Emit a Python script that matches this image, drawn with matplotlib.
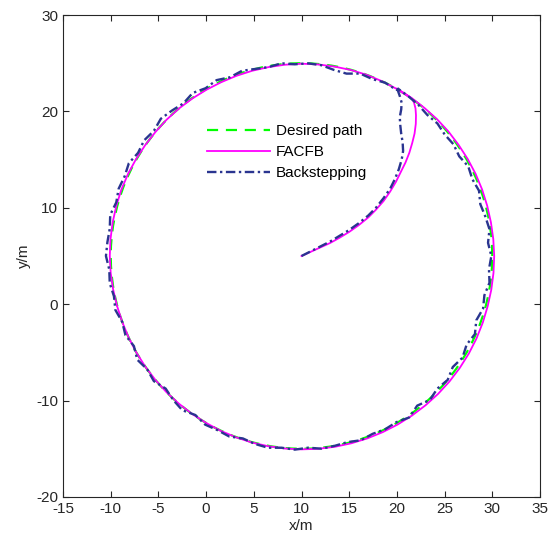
import numpy as np
import matplotlib
matplotlib.use("Agg")
import matplotlib.pyplot as plt

plt.rcParams['font.family'] = ['Liberation Sans', 'DejaVu Sans']
plt.rcParams['axes.unicode_minus'] = False

# Reference circle: centre and radius of the desired path
center_x, center_y = 10.0, 5.0
desired_angle = np.arange(0, 361, 3)
desired_radius = [20.0] * len(desired_angle)

# FACFB: approach from the start point, then tracking around the circle
facfb_approach_x = [10.0, 11.0, 12.0, 13.0, 14.0, 15.0, 16.0, 17.0, 17.8, 18.6, 19.3, 19.9,
                    20.4, 20.9, 21.3, 21.6, 21.85, 21.98, 22.0, 21.95, 21.8, 21.6]
facfb_approach_y = [5.0, 5.45, 5.9, 6.35, 6.9, 7.5, 8.2, 9.0, 9.8, 10.7, 11.7, 12.7,
                    13.7, 14.7, 15.7, 16.7, 17.7, 18.7, 19.6, 20.3, 20.9, 21.3]
facfb_angle = np.arange(55, 421, 5)
facfb_radius = [20.0, 20.0, 20.0, 20.0, 19.98, 19.95, 19.95, 19.95, 19.92, 19.9, 19.9, 19.9,
                19.9, 19.92, 19.95, 19.98, 20.0, 20.0, 20.02, 20.05, 20.08, 20.1, 20.1, 20.1,
                20.1, 20.1, 20.08, 20.05, 20.02, 20.0, 20.0, 20.0, 20.0, 20.0, 20.0, 20.0,
                20.0, 20.0, 20.02, 20.02, 20.04, 20.04, 20.05, 20.06, 20.08, 20.1, 20.12,
                20.14, 20.16, 20.18, 20.2, 20.22, 20.24, 20.25, 20.25, 20.25, 20.24, 20.22,
                20.2, 20.2, 20.2, 20.2, 20.18, 20.16, 20.15, 20.15, 20.14, 20.12, 20.1, 20.1,
                20.08, 20.05, 20.05, 20.04]

# Backstepping: approach, then oscillatory tracking around the circle
bs_approach_x = [10.0, 11.0, 12.0, 13.0, 14.0, 15.0, 16.0, 17.0, 17.8, 18.6, 19.3, 19.8,
                 20.2, 20.5, 20.65, 20.6, 20.45, 20.35, 20.3, 20.45, 20.5, 20.3, 20.05]
bs_approach_y = [5.0, 5.5, 6.0, 6.5, 7.1, 7.7, 8.4, 9.2, 10.0, 11.0, 12.0, 13.0,
                 14.0, 15.0, 15.9, 16.8, 17.7, 18.6, 19.4, 20.2, 20.9, 21.6, 22.3]
bs_angle = np.arange(60, 421, 4)
bs_radius = [19.9, 20.0, 19.8, 19.9,
             19.5, 19.6, 19.9, 20.0,
             19.9, 20.1, 19.9, 20.0, 20.2, 20.0, 20.3, 20.1,
             20.4, 20.1, 20.3, 20.5, 20.2,
             20.4, 20.2, 20.5, 20.3, 20.4, 20.2, 20.5, 20.3, 20.4,
             20.5, 20.2, 20.3, 20.1, 20.3, 20.0,
             20.2, 19.9, 20.3, 20.0, 20.2, 19.8, 20.1, 20.3, 19.9, 20.2,
             20.1, 20.2, 19.9, 20.1, 20.2, 20.0, 20.1, 19.9, 20.1, 20.0, 19.9, 20.1, 19.9, 20.0,
             19.9, 20.2, 19.7, 20.1, 19.8, 20.0, 19.6, 19.9,
             19.6, 19.9, 19.5, 19.8, 19.6, 19.9, 19.7, 19.9,
             19.6, 19.9, 19.7, 19.5, 19.8, 19.6, 19.8, 19.5, 19.7,
             19.6, 19.8, 19.7, 19.9, 20.0, 20.1]

x_ticks = [-15, -10, -5, 0, 5, 10, 15, 20, 25, 30, 35]
y_ticks = [-20, -10, 0, 10, 20, 30]


def polar_to_xy(angle_deg, radius):
    a = np.radians(np.asarray(angle_deg, dtype=float))
    r = np.asarray(radius, dtype=float)
    return center_x + r * np.cos(a), center_y + r * np.sin(a)


dx, dy = polar_to_xy(desired_angle, desired_radius)
fx, fy = polar_to_xy(facfb_angle, facfb_radius)
fx = np.concatenate([facfb_approach_x, fx])
fy = np.concatenate([facfb_approach_y, fy])
bx, by = polar_to_xy(bs_angle, bs_radius)
bx = np.concatenate([bs_approach_x, bx])
by = np.concatenate([bs_approach_y, by])

fig = plt.figure(figsize=(5.49, 5.50), dpi=100)
ax = fig.add_axes([0.1148, 0.0964, 0.8688, 0.8763])

ax.plot(dx, dy, color='#00ff00', lw=1.6, dashes=(5, 3.5), label='Desired path')
ax.plot(fx, fy, color='#ff00ff', lw=1.3, label='FACFB')
ax.plot(bx, by, color='#2a3590', lw=1.7, dashes=(4, 1.5, 1, 1.5), label='Backstepping')

ax.set_xlim(-15, 35)
ax.set_ylim(-20, 30)
ax.set_xticks(x_ticks)
ax.set_yticks(y_ticks)
ax.tick_params(direction='in', top=True, right=True, length=4, width=0.8,
               labelsize=11, colors='#262626')
for s in ax.spines.values():
    s.set_color('#262626')
    s.set_linewidth(0.8)
ax.set_xlabel('x/m', fontsize=11, color='#262626', labelpad=2)
ax.set_ylabel('y/m', fontsize=11, color='#262626', labelpad=4)

ax.legend(loc='upper left', bbox_to_anchor=(0.29, 0.786), frameon=False,
          fontsize=11, handlelength=4.1, handletextpad=0.4, labelspacing=0.45,
          borderaxespad=0)

fig.savefig('out.png', dpi=100)
